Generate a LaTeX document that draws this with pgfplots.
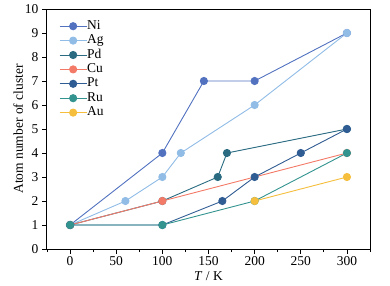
\documentclass[border=0pt]{standalone}
\usepackage{pgfplots}
\pgfplotsset{compat=1.18}
\usepackage{fontspec}
\setmainfont{Liberation Serif}
\definecolor{cNi}{HTML}{5272C0}
\definecolor{cAg}{HTML}{90BCE6}
\definecolor{cPd}{HTML}{2A6B82}
\definecolor{cCu}{HTML}{F47A68}
\definecolor{cPt}{HTML}{2F5C92}
\definecolor{cRu}{HTML}{33948F}
\definecolor{cAu}{HTML}{F5BE3C}
\begin{document}
\begin{tikzpicture}[font=\fontsize{13.5}{15}\selectfont]
\begin{axis}[
  scale only axis, width=323pt, height=240pt,
  xmin=-25, xmax=325, ymin=0, ymax=10,
  xtick={0,50,...,300}, minor xtick={-25,25,75,125,175,225,275,325},
  ytick={0,1,...,10},
  tick align=outside, axis line style={line width=1pt},
  major tick length=5pt, minor tick length=3pt,
  xtick pos=bottom, ytick pos=left,
  tick style={black, line width=0.8pt},
  /pgf/number format/assume math mode=true,
  xticklabel style={yshift=1pt},
  xlabel={\textit{T} / K}, ylabel={Atom number of cluster},
  xlabel style={yshift=1pt}, ylabel style={yshift=-5pt},
  legend style={at={(rel axis cs:0,1)}, xshift=12pt, yshift=-11pt, anchor=north west, draw=none, fill=none,
    row sep=2.4pt, inner sep=0pt, nodes={inner sep=0pt, text height=9pt, text depth=3pt},
    font=\fontsize{13.5}{15}\selectfont},
  legend cell align=left,
  legend image code/.code={\draw[#1] (0pt,0pt) -- (27pt,0pt); \draw[#1] plot coordinates {(13.5pt,0pt)};},
  every axis plot/.append style={line width=0.9pt, mark=*, mark size=3.6pt},
]
\addplot[cNi, mark options={fill=cNi}] coordinates {(0,1) (100,4) (145,7) (200,7) (300,9)};
\addlegendentry{Ni}
\addplot[cAg, mark options={fill=cAg}] coordinates {(0,1) (60,2) (100,3) (120,4) (200,6) (300,9)};
\addlegendentry{Ag}
\addplot[cPd, mark options={fill=cPd}] coordinates {(0,1) (100,2) (160,3) (170,4) (300,5)};
\addlegendentry{Pd}
\addplot[cCu, mark options={fill=cCu}] coordinates {(0,1) (100,2) (300,4)};
\addlegendentry{Cu}
\addplot[cPt, mark options={fill=cPt}] coordinates {(0,1) (100,1) (165,2) (200,3) (250,4) (300,5)};
\addlegendentry{Pt}
\addplot[cRu, mark options={fill=cRu}] coordinates {(0,1) (100,1) (200,2) (300,4)};
\addlegendentry{Ru}
\addplot[cAu, mark options={fill=cAu}] coordinates {(200,2) (300,3)};
\addlegendentry{Au}
\end{axis}
\pgfresetboundingbox
\path[use as bounding box] ([shift={(-47pt,-36pt)}]current axis.south west) rectangle ++(390pt,285pt);
\end{tikzpicture}
\end{document}
